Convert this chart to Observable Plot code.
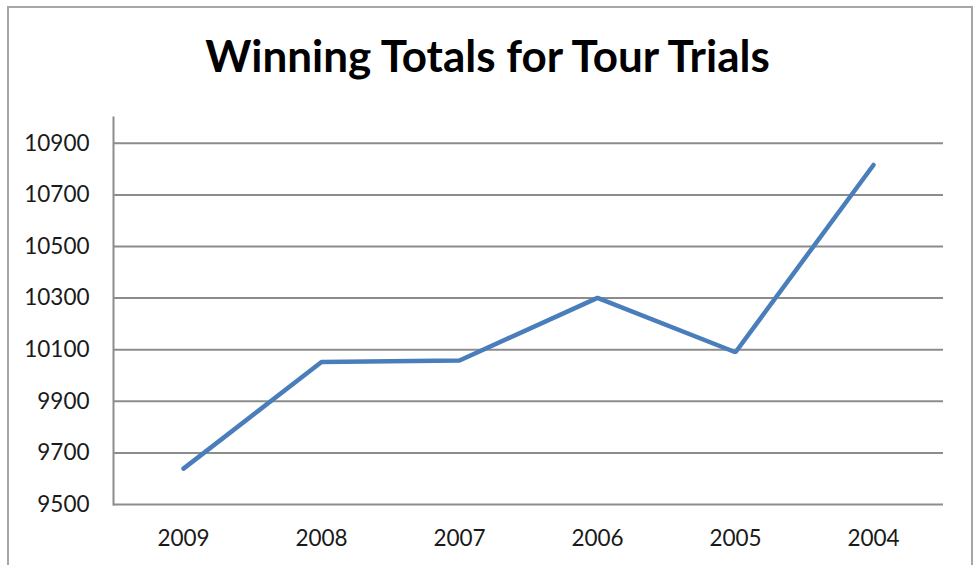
<!DOCTYPE html>
<html>
<head>
<meta charset="utf-8">
<script src="https://cdn.jsdelivr.net/npm/d3@7"></script>
<script src="https://cdn.jsdelivr.net/npm/@observablehq/plot@0.6"></script>
<style>
  html, body { margin: 0; padding: 0; background: #fff; overflow: hidden; }
  #wrap { position: relative; width: 979px; height: 565px; }
  #frame { position: absolute; left: 7px; top: 6px; width: 966px; height: 600px; border: 2px solid #a6a6a6; box-sizing: border-box; }
  #title { position: absolute; left: 0; width: 975px; top: 29px; text-align: center; font-family: Lato, sans-serif; font-weight: bold; font-size: 44px; line-height: 52px; color: #000; }
  #chart { position: absolute; left: 0; top: 0; }
</style>
</head>
<body>
<div id="wrap">
  <div id="frame"></div>
  <div id="title">Winning Totals for Tour Trials</div>
  <div id="chart"></div>
</div>
<script>
const years = ["2009", "2008", "2007", "2006", "2005", "2004"];
const totals = [9639, 10052, 10058, 10301, 10090, 10816];
const yTicks = [9500, 9700, 9900, 10100, 10300, 10500, 10700, 10900];
const yDomain = [9500, 11000];

const data = years.map((y, i) => ({year: y, total: totals[i]}));

const chart = Plot.plot({
  width: 979,
  height: 565,
  marginLeft: 113,
  marginRight: 36,
  marginTop: 117,
  marginBottom: 61,
  style: {fontFamily: "Lato, sans-serif", fontSize: "22.5px", color: "#1a1a1a", background: "transparent"},
  x: {type: "point", domain: years, padding: 0.5},
  y: {domain: yDomain},
  marks: [
    Plot.ruleY(yTicks, {stroke: "#8c8c8c", strokeWidth: 2}),
    Plot.frame({anchor: "left", stroke: "#8c8c8c", strokeWidth: 2}),
    Plot.axisY({ticks: yTicks, tickSize: 0, tickPadding: 24, tickFormat: d => String(d), label: null}),
    Plot.axisX({tickSize: 0, tickPadding: 26, label: null}),
    Plot.line(data, {x: "year", y: "total", stroke: "#4A7EBB", strokeWidth: 4.5, strokeLinecap: "round", strokeLinejoin: "miter"})
  ]
});
document.getElementById("chart").appendChild(chart);
</script>
</body>
</html>
